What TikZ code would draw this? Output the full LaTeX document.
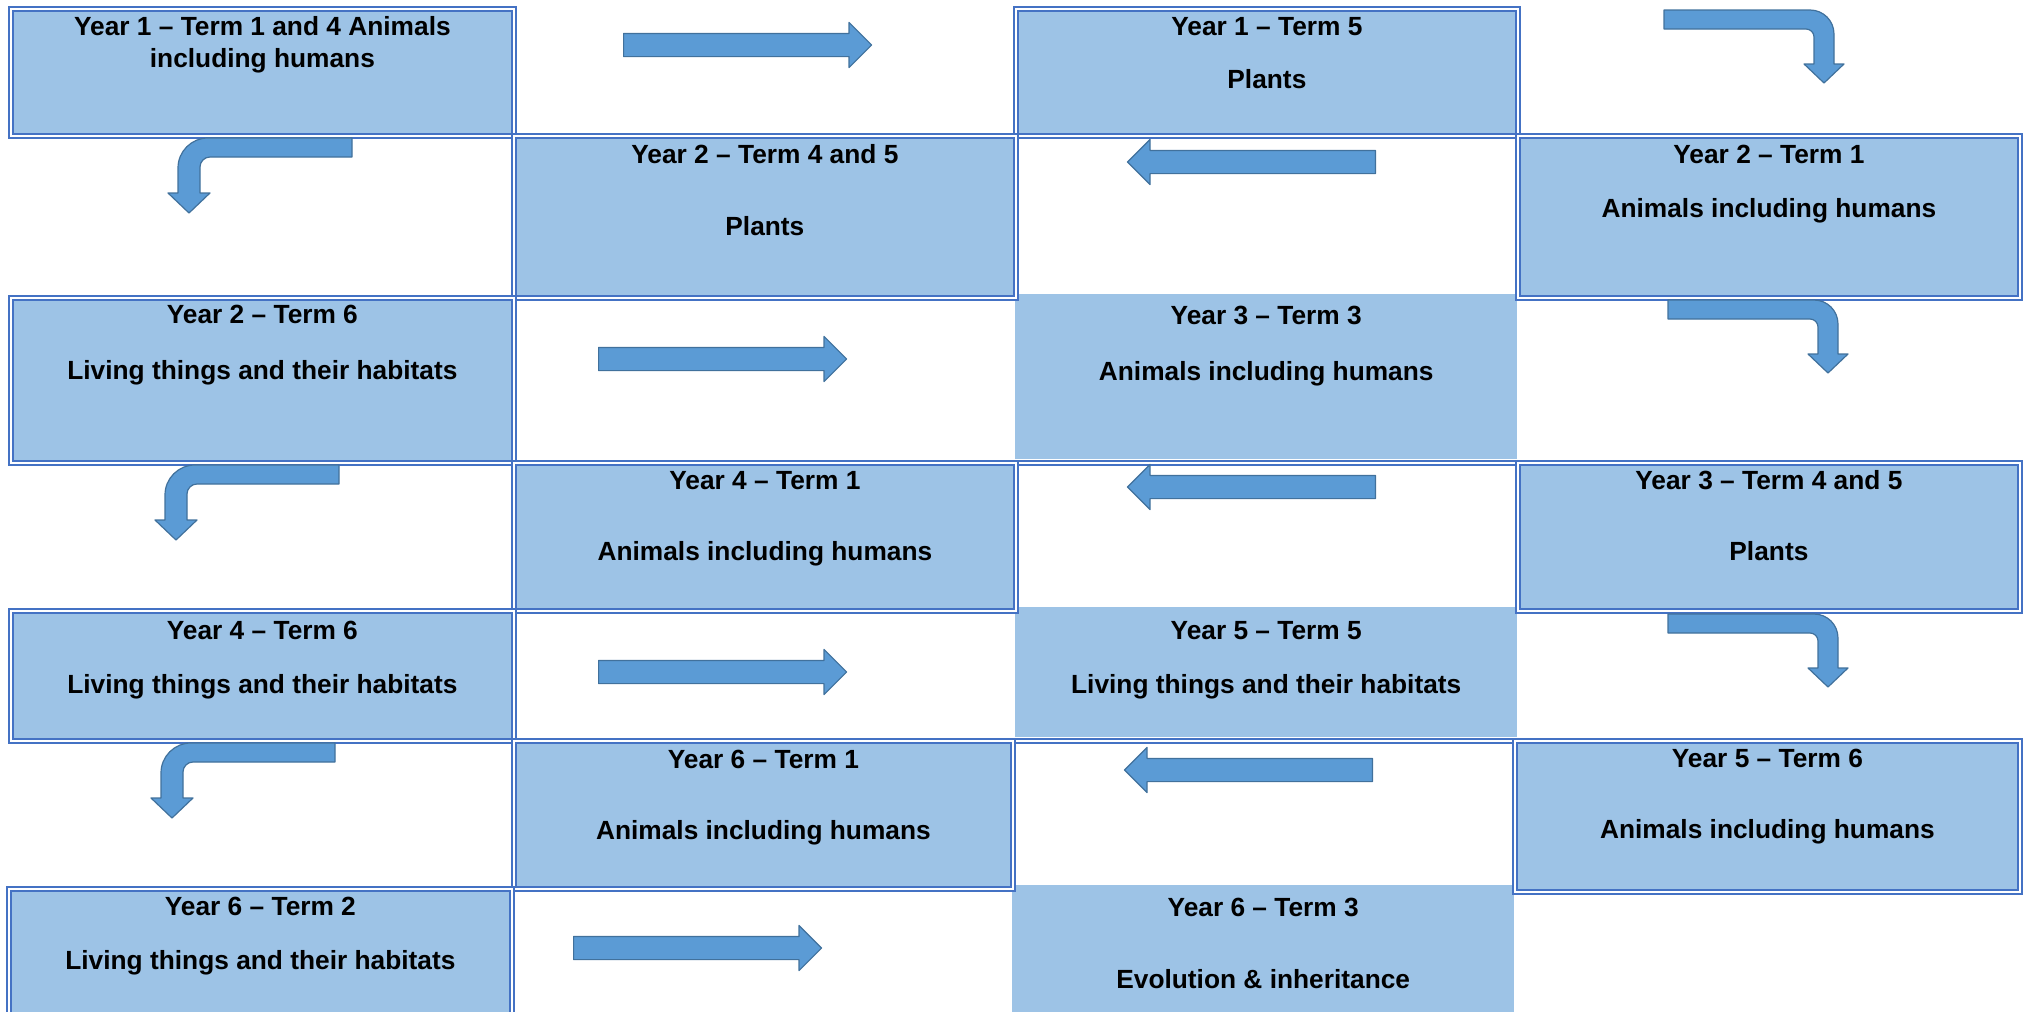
\documentclass[tikz,border=0pt]{standalone}
\usepackage{fontspec}
\setmainfont{Liberation Sans}
\usetikzlibrary{shapes.arrows}
\definecolor{cellblue}{HTML}{9DC3E6}
\definecolor{lineblue}{HTML}{4472C4}
\definecolor{arrowblue}{HTML}{5B9BD5}
\definecolor{arrowedge}{HTML}{41719C}

\tikzset{termbox/.style = {shape = rectangle,
                           anchor = north west,
                           fill = cellblue,
                           draw = lineblue,
                           double = white,
                           double distance = 2pt,
                           line width = 1.8pt,
                           inner sep = 0pt},
         plainbox/.style = {shape = rectangle,
                            anchor = north west,
                            fill = cellblue,
                            inner sep = 0pt},
         cellframe/.style = {shape = rectangle,
                             anchor = north west,
                             draw = lineblue,
                             double = white,
                             double distance = 2pt,
                             line width = 1.8pt,
                             inner sep = 0pt},
         termtext/.style = {anchor = base,
                            inner sep = 0pt,
                            font = \fontsize{26.3}{31}\selectfont\bfseries},
         arrowbody/.style = {fill = arrowblue,
                             draw = arrowedge,
                             line width = 1.2pt,
                             line join = round},
         rarrow/.style = {single arrow,
                          arrowbody,
                          anchor = tail,
                          inner xsep = 0pt,
                          inner ysep = 11pt,
                          minimum height = 248pt,
                          single arrow head extend = 11pt},
         larrow/.style = {rarrow, shape border rotate = 180},
         bentright/.pic = {\draw[arrowbody] (0,0) -- (146,0)
                              .. controls (159.3,0) and (170,10.7) .. (170,24)
                              -- (170,54) -- (180,54) -- (160,73) -- (140,54) -- (150,54) -- (150,27)
                              .. controls (150,22.6) and (146.4,19) .. (142,19)
                              -- (0,19) -- cycle;},
         bentleft/.pic = {\draw[arrowbody] (0,0) -- (-144,0)
                             .. controls (-160.6,0) and (-174,13.4) .. (-174,30)
                             -- (-174,55) -- (-184,55) -- (-163,75) -- (-142,55) -- (-152,55) -- (-152,29)
                             .. controls (-152,23.5) and (-147.5,19) .. (-142,19)
                             -- (0,19) -- cycle;}}

\begin{document}
\begin{tikzpicture}[x=1pt, y=-1pt]
	\useasboundingbox (0,0) rectangle (2027,1012);
	\clip (0,0) rectangle (2027,1012);

	% frames of the empty cells in the third column
	\node[cellframe, minimum width=502pt, minimum height=162pt] (cell2) at (1015,135) {};
	\node[cellframe, minimum width=502pt, minimum height=148pt] (cell4) at (1015,462) {};
	\node[cellframe, minimum width=502pt, minimum height=148pt] (cell6) at (1012,740) {};

	% shaded cells without border
	\node[plainbox, minimum width=502pt, minimum height=165pt] (y3t3) at (1015,294) {};
	\node[plainbox, minimum width=502pt, minimum height=130pt] (y5t5) at (1015,607) {};
	\node[plainbox, minimum width=502pt, minimum height=145pt] (y6t3) at (1012,885) {};

	% bordered cells
	\node[termbox, minimum width=503pt, minimum height=127pt] (y1t14) at (10,8) {};
	\node[termbox, minimum width=502pt, minimum height=127pt] (y1t5) at (1015,8) {};
	\node[termbox, minimum width=502pt, minimum height=162pt] (y2t45) at (513,135) {};
	\node[termbox, minimum width=502pt, minimum height=162pt] (y2t1) at (1517,135) {};
	\node[termbox, minimum width=503pt, minimum height=165pt] (y2t6) at (10,297) {};
	\node[termbox, minimum width=502pt, minimum height=148pt] (y4t1) at (513,462) {};
	\node[termbox, minimum width=502pt, minimum height=148pt] (y3t45) at (1517,462) {};
	\node[termbox, minimum width=503pt, minimum height=130pt] (y4t6) at (10,610) {};
	\node[termbox, minimum width=499pt, minimum height=148pt] (y6t1) at (513,740) {};
	\node[termbox, minimum width=505pt, minimum height=151pt] (y5t6) at (1514,740) {};
	\node[termbox, minimum width=503pt, minimum height=142pt] (y6t2) at (8,888) {};

	% arrows
	\node[rarrow] (ar1) at (623,45) {};
	\node[rarrow] (ar3) at (598,359) {};
	\node[rarrow] (ar5) at (598,672) {};
	\node[rarrow] (ar7) at (573,948) {};
	\node[larrow] (al2) at (1376,162) {};
	\node[larrow] (al4) at (1376,487) {};
	\node[larrow] (al6) at (1373,770) {};
	\pic (br1) at (1664,10) {bentright};
	\pic (br3) at (1668,300) {bentright};
	\pic (br5) at (1668,614) {bentright};
	\pic (bl2) at (352,138) {bentleft};
	\pic (bl4) at (339,465) {bentleft};
	\pic (bl6) at (335,743) {bentleft};

	% texts
	\node[termtext] (y1t14-a) at ([yshift=-27pt]y1t14.north) {Year 1 – Term 1 and 4 Animals};
	\node[termtext] (y1t14-b) at ([yshift=-59pt]y1t14.north) {including humans};
	\node[termtext] (y1t5-a) at ([yshift=-27pt]y1t5.north) {Year 1 – Term 5};
	\node[termtext] (y1t5-b) at ([yshift=-80pt]y1t5.north) {Plants};
	\node[termtext] (y2t45-a) at ([yshift=-28pt]y2t45.north) {Year 2 – Term 4 and 5};
	\node[termtext] (y2t45-b) at ([yshift=-100pt]y2t45.north) {Plants};
	\node[termtext] (y2t1-a) at ([yshift=-28pt]y2t1.north) {Year 2 – Term 1};
	\node[termtext] (y2t1-b) at ([yshift=-82pt]y2t1.north) {Animals including humans};
	\node[termtext] (y2t6-a) at ([yshift=-26pt]y2t6.north) {Year 2 – Term 6};
	\node[termtext] (y2t6-b) at ([yshift=-82pt]y2t6.north) {Living things and their habitats};
	\node[termtext] (y3t3-a) at ([yshift=-30pt]y3t3.north) {Year 3 – Term 3};
	\node[termtext] (y3t3-b) at ([yshift=-86pt]y3t3.north) {Animals including humans};
	\node[termtext] (y4t1-a) at ([yshift=-27pt]y4t1.north) {Year 4 – Term 1};
	\node[termtext] (y4t1-b) at ([yshift=-98pt]y4t1.north) {Animals including humans};
	\node[termtext] (y3t45-a) at ([yshift=-27pt]y3t45.north) {Year 3 – Term 4 and 5};
	\node[termtext] (y3t45-b) at ([yshift=-98pt]y3t45.north) {Plants};
	\node[termtext] (y4t6-a) at ([yshift=-29pt]y4t6.north) {Year 4 – Term 6};
	\node[termtext] (y4t6-b) at ([yshift=-83pt]y4t6.north) {Living things and their habitats};
	\node[termtext] (y5t5-a) at ([yshift=-32pt]y5t5.north) {Year 5 – Term 5};
	\node[termtext] (y5t5-b) at ([yshift=-86pt]y5t5.north) {Living things and their habitats};
	\node[termtext] (y6t1-a) at ([yshift=-28pt]y6t1.north) {Year 6 – Term 1};
	\node[termtext] (y6t1-b) at ([yshift=-99pt]y6t1.north) {Animals including humans};
	\node[termtext] (y5t6-a) at ([yshift=-27pt]y5t6.north) {Year 5 – Term 6};
	\node[termtext] (y5t6-b) at ([yshift=-98pt]y5t6.north) {Animals including humans};
	\node[termtext] (y6t2-a) at ([yshift=-27pt]y6t2.north) {Year 6 – Term 2};
	\node[termtext] (y6t2-b) at ([yshift=-81pt]y6t2.north) {Living things and their habitats};
	\node[termtext] (y6t3-a) at ([yshift=-31pt]y6t3.north) {Year 6 – Term 3};
	\node[termtext] (y6t3-b) at ([yshift=-103pt]y6t3.north) {Evolution \& inheritance};
\end{tikzpicture}
\end{document}
